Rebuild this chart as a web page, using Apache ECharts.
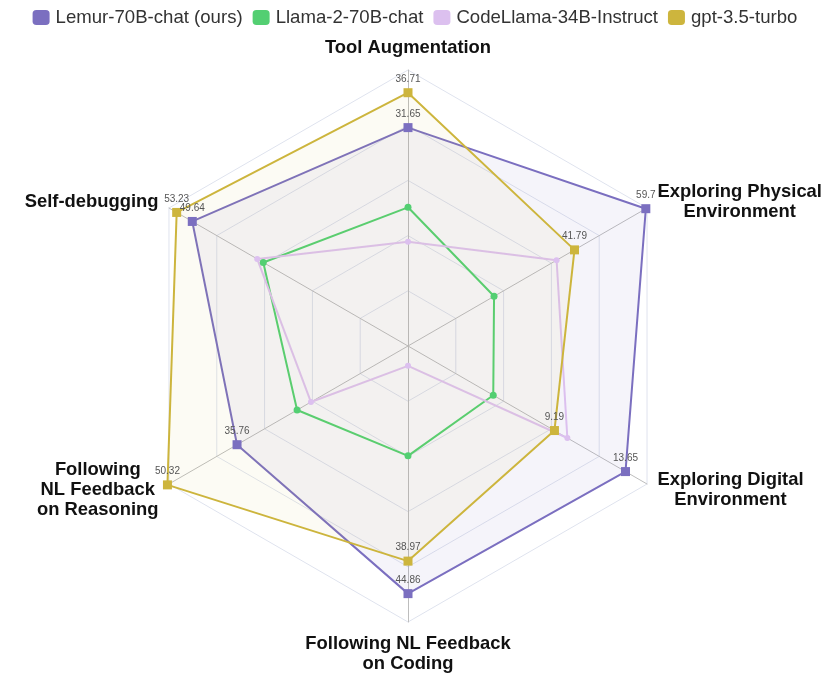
<!DOCTYPE html>
<html>
<head>
<meta charset="utf-8">
<script src="https://cdn.jsdelivr.net/npm/echarts@6/dist/echarts.min.js"></script>
<style>
html,body{margin:0;padding:0;background:#fff;}
#chart{width:830px;height:677px;}
</style>
</head>
<body>
<div id="chart"></div>
<script>
// Indicators in radar order (counter-clockwise from top)
const categories = [
  'Tool Augmentation',
  'Self-debugging',
  'Following\nNL Feedback\non Reasoning',
  'Following NL Feedback\non Coding',
  'Exploring Digital\nEnvironment',
  'Exploring Physical\nEnvironment'
];
const axisMax = [40, 55, 50, 50, 15, 60];

const seriesNames = ['Lemur-70B-chat (ours)', 'Llama-2-70B-chat', 'CodeLlama-34B-Instruct', 'gpt-3.5-turbo'];
const lemur = [31.65, 49.64, 35.76, 44.86, 13.65, 59.7];
const llama = [20.1, 33.3, 23.2, 19.9, 5.35, 21.6];
const codellama = [15.1, 34.7, 20.3, 3.6, 10.0, 37.3];
const gpt = [36.71, 53.23, 50.32, 38.97, 9.19, 41.79];

const colors = ['#7b6fc0', '#53cf72', '#dcc0ef', '#cdb53d'];
const FONT = '"Liberation Sans", Arial, sans-serif';

const chart = echarts.init(document.getElementById('chart'), null, {renderer: 'canvas'});

function mkSeries(idx, values, showLabel, symbol, symbolSize, width, areaOpacity) {
  return {
    name: seriesNames[idx],
    value: values,
    symbol: symbol,
    symbolSize: symbolSize,
    lineStyle: {color: colors[idx], width: width},
    itemStyle: {color: colors[idx]},
    areaStyle: {color: colors[idx], opacity: areaOpacity},
    label: {
      show: showLabel,
      position: 'top',
      distance: 4,
      fontSize: 10,
      color: '#555',
      fontFamily: FONT
    }
  };
}

chart.setOption({
  animation: false,
  color: colors,
  legend: {
    top: 3,
    left: 'center',
    itemWidth: 17,
    itemHeight: 15,
    itemGap: 10,
    icon: 'roundRect',
    textStyle: {fontSize: 18.6, color: '#333', fontFamily: FONT, padding: [0, 0, 0, 1]},
    data: seriesNames
  },
  radar: {
    center: [408, 346],
    radius: 276,
    startAngle: 90,
    splitNumber: 5,
    shape: 'polygon',
    indicator: categories.map((n, i) => ({name: n, max: axisMax[i], min: 0})),
    axisName: {
      color: '#111',
      fontSize: 18.4,
      fontWeight: 'bold',
      fontFamily: FONT,
      formatter: function (name) {
        return name.split('\n').map(l => '{c|' + l + '}').join('\n');
      },
      rich: {
        c: {align: 'center', fontSize: 18.4, fontWeight: 'bold', color: '#111', fontFamily: FONT, lineHeight: 20}
      }
    },
    nameGap: 12,
    axisLine: {lineStyle: {color: '#bdbdbd', width: 1}},
    splitLine: {lineStyle: {color: '#dfe3ee', width: 1}},
    splitArea: {show: false}
  },
  series: [{
    type: 'radar',
    data: [
      mkSeries(0, lemur, true, 'rect', 9, 2, 0.08),
      mkSeries(1, llama, false, 'circle', 7, 2, 0),
      mkSeries(2, codellama, false, 'circle', 6, 2, 0),
      mkSeries(3, gpt, true, 'rect', 9, 2, 0.06)
    ]
  }]
});
</script>
</body>
</html>
